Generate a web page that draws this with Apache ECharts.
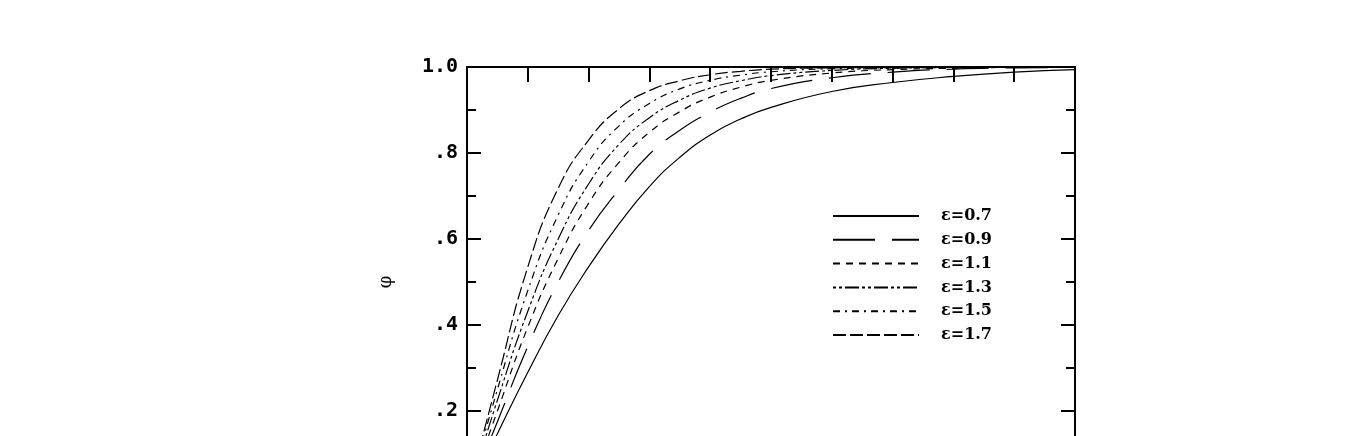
<!DOCTYPE html>
<html>
<head>
<meta charset="utf-8">
<script src="https://cdn.jsdelivr.net/npm/echarts@6/dist/echarts.min.js"></script>
<style>
  html, body { margin: 0; padding: 0; background: #fff; overflow: hidden; }
  #chart { width: 1357px; height: 560px; }
</style>
</head>
<body>
<div id="chart"></div>
<script>
// x positions (axis units) where the curves were read
const xs = [0, 0.5, 1, 1.5, 2, 2.5, 3, 3.5, 4, 4.5, 5, 6, 7, 8, 9, 10];

const eps07 = [0, 0.147, 0.290, 0.422, 0.535, 0.635, 0.722, 0.790, 0.842, 0.879, 0.906, 0.943, 0.964, 0.978, 0.988, 0.994];
const eps09 = [0, 0.175, 0.350, 0.500, 0.620, 0.715, 0.797, 0.853, 0.895, 0.927, 0.950, 0.975, 0.988, 0.995, 0.998, 0.999];
const eps11 = [0, 0.200, 0.395, 0.555, 0.683, 0.778, 0.848, 0.896, 0.930, 0.953, 0.969, 0.986, 0.994, 0.997, 0.999, 0.999];
const eps13 = [0, 0.225, 0.432, 0.600, 0.728, 0.820, 0.882, 0.923, 0.951, 0.968, 0.980, 0.992, 0.997, 0.999, 1.0, 1.0];
const eps15 = [0, 0.250, 0.480, 0.656, 0.780, 0.863, 0.915, 0.949, 0.969, 0.981, 0.989, 0.996, 0.998, 0.999, 1.0, 1.0];
const eps17 = [0, 0.272, 0.535, 0.718, 0.830, 0.903, 0.945, 0.968, 0.982, 0.990, 0.995, 0.998, 0.999, 1.0, 1.0, 1.0];

const names = ['ε=0.7', 'ε=0.9', 'ε=1.1', 'ε=1.3', 'ε=1.5', 'ε=1.7'];
const values = [eps07, eps09, eps11, eps13, eps15, eps17];
const yTicks = { 1: '1.0', 0.8: '.8', 0.6: '.6', 0.4: '.4', 0.2: '.2', 0: '0' };

// dash patterns, same order as names
const dashes = [
  'solid',
  [42, 17],
  [7, 6],
  [3, 3, 3, 3, 14, 3],
  [7, 5, 2, 5],
  [13, 4]
];

const chart = echarts.init(document.getElementById('chart'));

const AXIS = { color: '#000', width: 2 };

const yBase = {
  type: 'value',
  min: 0,
  max: 1,
  interval: 0.2,
  axisLine: { show: true, onZero: false, lineStyle: AXIS },
  axisTick: { inside: true, length: 14, lineStyle: AXIS },
  minorTick: { show: true, splitNumber: 2, length: 9, lineStyle: AXIS },
  splitLine: { show: false },
  minorSplitLine: { show: false }
};

const xBase = {
  type: 'value',
  min: 0,
  max: 10,
  interval: 1,
  axisLine: { show: true, onZero: false, lineStyle: AXIS },
  axisTick: { inside: true, length: 15, lineStyle: AXIS },
  axisLabel: { show: false },
  splitLine: { show: false }
};

chart.setOption({
  animation: false,
  grid: { left: 467, top: 67, width: 608, height: 430 },
  legend: {
    orient: 'vertical',
    left: 832,
    top: 208,
    padding: 0,
    itemWidth: 86,
    itemHeight: 14,
    itemGap: 7.8,
    data: names,
    itemStyle: { color: 'rgba(0,0,0,0)', borderWidth: 0 },
    textStyle: {
      color: '#000',
      fontSize: 16,
      fontWeight: 'bold',
      fontFamily: 'DejaVu Serif',
      padding: [0, 0, 0, 17]
    }
  },
  xAxis: [
    Object.assign({}, xBase, { position: 'bottom' }),
    Object.assign({}, xBase, { position: 'top' })
  ],
  yAxis: [
    Object.assign({}, yBase, {
      position: 'left',
      name: 'φ',
      nameLocation: 'middle',
      nameGap: 72,
      nameTextStyle: { fontSize: 18, color: '#000', fontFamily: 'DejaVu Serif' },
      axisLabel: {
        margin: 9,
        color: '#000',
        fontSize: 20,
        fontWeight: 'bold',
        fontFamily: 'DejaVu Sans Mono',
        formatter: v => yTicks[Math.round(v * 10) / 10] || ''
      }
    }),
    Object.assign({}, yBase, { position: 'right', axisLabel: { show: false } })
  ],
  series: names.map((name, i) => ({
    name: name,
    type: 'line',
    smooth: true,
    symbol: 'none',
    xAxisIndex: 0,
    yAxisIndex: 0,
    color: '#000',
    lineStyle: { color: '#000', width: 1.2, type: dashes[i] },
    data: xs.map((x, j) => [x, values[i][j]])
  }))
});
</script>
</body>
</html>
